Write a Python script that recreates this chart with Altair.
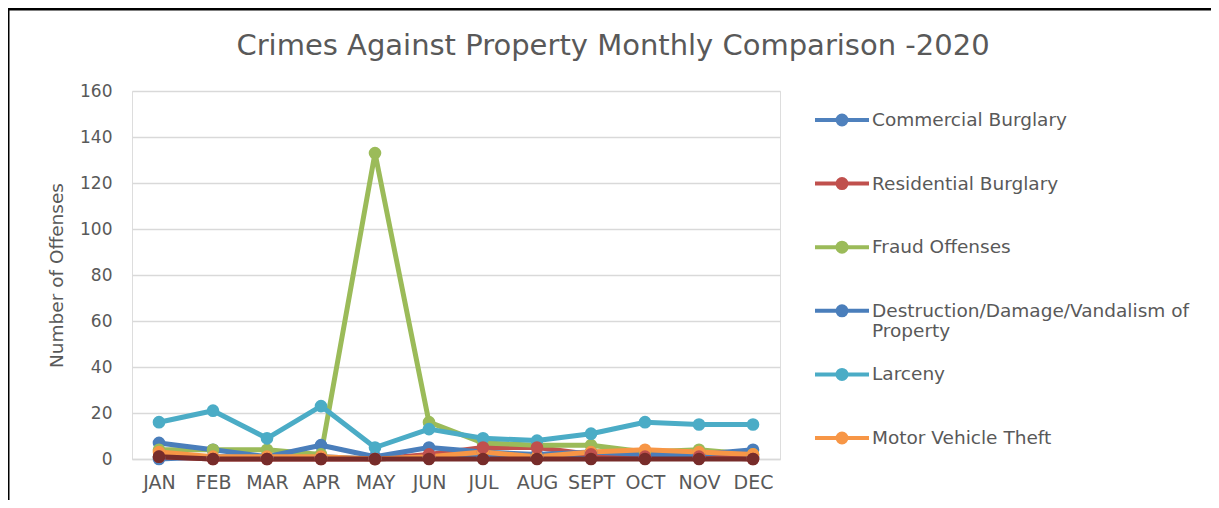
import altair as alt
import pandas as pd

months = ["JAN", "FEB", "MAR", "APR", "MAY", "JUN", "JUL", "AUG", "SEPT", "OCT", "NOV", "DEC"]
series_names = [
    "Commercial Burglary",
    "Residential Burglary",
    "Fraud Offenses",
    "Destruction/Damage/Vandalism of Property",
    "Larceny",
    "Motor Vehicle Theft",
    "Stolen Property Offenses",
]
commercial = [0, 1, 1, 1, 0, 1, 1, 1, 2, 1, 1, 1]
residential = [1, 0, 0, 0, 0, 2, 5, 5, 2, 1, 1, 0]
fraud = [4, 4, 4, 2, 133, 16, 7, 6, 6, 3, 4, 2]
destruction = [7, 4, 1, 6, 1, 5, 3, 2, 3, 2, 2, 4]
larceny = [16, 21, 9, 23, 5, 13, 9, 8, 11, 16, 15, 15]
motor = [3, 1, 1, 1, 0, 1, 3, 1, 3, 4, 3, 2]
stolen = [1, 0, 0, 0, 0, 0, 0, 0, 0, 0, 0, 0]
colors = ["#4F81BD", "#C0504D", "#9BBB59", "#4A7EBB", "#4BACC6", "#F79646", "#772C2A"]
legend_names = series_names[:6]

values = [commercial, residential, fraud, destruction, larceny, motor, stolen]
rows = []
for name, vals in zip(series_names, values):
    for m, v in zip(months, vals):
        rows.append({"Month": m, "Series": name, "Offenses": v})
df = pd.DataFrame(rows)

FONT = "DejaVu Sans"
GRAY = "#595959"
W, H = 648, 368
PL, PT = 124, 83
TOTAL_W, TOTAL_H = 1203, 492

sym_path = ("M-1,0H1"
            "M0.1667,0A0.1667,0.1667 0 1,1 -0.1667,0A0.1667,0.1667 0 1,1 0.1667,0"
            "M0.0556,0A0.0556,0.0556 0 1,1 -0.0556,0A0.0556,0.0556 0 1,1 0.0556,0")

x_enc = alt.X("Month:N", sort=months,
              scale=alt.Scale(type="point", padding=0.5),
              axis=alt.Axis(title=None, labelAngle=0, labelFontSize=19, labelColor=GRAY,
                            labelFont=FONT, labelPadding=14, ticks=False,
                            domainColor="#d9d9d9", domainWidth=1.5, grid=False))
y_enc = alt.Y("Offenses:Q",
              scale=alt.Scale(domain=[0, 160], nice=False),
              axis=alt.Axis(title="Number of Offenses", values=list(range(0, 161, 20)),
                            labelFontSize=17, labelColor=GRAY, labelFont=FONT,
                            labelPadding=20, ticks=False, domain=False,
                            gridColor="#d9d9d9", gridWidth=1.5,
                            titleFontSize=18.5, titleColor=GRAY, titleFont=FONT,
                            titleFontWeight="normal", titlePadding=13))
color_enc = alt.Color("Series:N",
                      scale=alt.Scale(domain=series_names, range=colors),
                      sort=series_names,
                      legend=alt.Legend(
                          title=None, values=legend_names, orient="right",
                          offset=33, padding=0, symbolType=sym_path, symbolSize=2916,
                          symbolStrokeWidth=4, symbolOpacity=1, rowPadding=4.6,
                          labelFontSize=18.5, labelColor=GRAY, labelFont=FONT,
                          labelOffset=1, labelLimit=400,
                          labelExpr="datum.label == 'Destruction/Damage/Vandalism of Property' ? ['Destruction/Damage/Vandalism of', 'Property'] : [datum.label, '']"))

base = alt.Chart(df).encode(x=x_enc, y=y_enc, color=color_enc,
                            order=alt.Order("Series:N"))

lines = base.mark_line(strokeWidth=5, strokeCap="round", strokeJoin="round")
points = base.mark_point(filled=True, size=160, opacity=1)

frame_df = pd.DataFrame({"k": [0]})
top_rule = alt.Chart(frame_df).mark_rule(color="black", strokeWidth=3).encode(
    x=alt.value(-PL), x2=alt.value(TOTAL_W - PL), y=alt.value(-PT + 1))
left_rule = alt.Chart(frame_df).mark_rule(color="black", strokeWidth=1.5).encode(
    x=alt.value(-PL + 0.75), y=alt.value(-PT), y2=alt.value(TOTAL_H - PT))

chart = alt.layer(lines, points, top_rule, left_rule).properties(
    width=W, height=H,
    autosize=alt.AutoSizeParams(type="none"),
    padding={"left": PL, "top": PT, "right": TOTAL_W - PL - W, "bottom": TOTAL_H - PT - H},
    title=alt.TitleParams("Crimes Against Property Monthly Comparison -2020",
                          fontSize=29, font=FONT, color=GRAY, fontWeight="normal",
                          anchor="middle", frame="group", dx=157, offset=-68,
                          baseline="middle"),
).configure_view(stroke=None).configure(background="white")

chart.save("out.html", embed_options={"renderer": "svg", "actions": False})
